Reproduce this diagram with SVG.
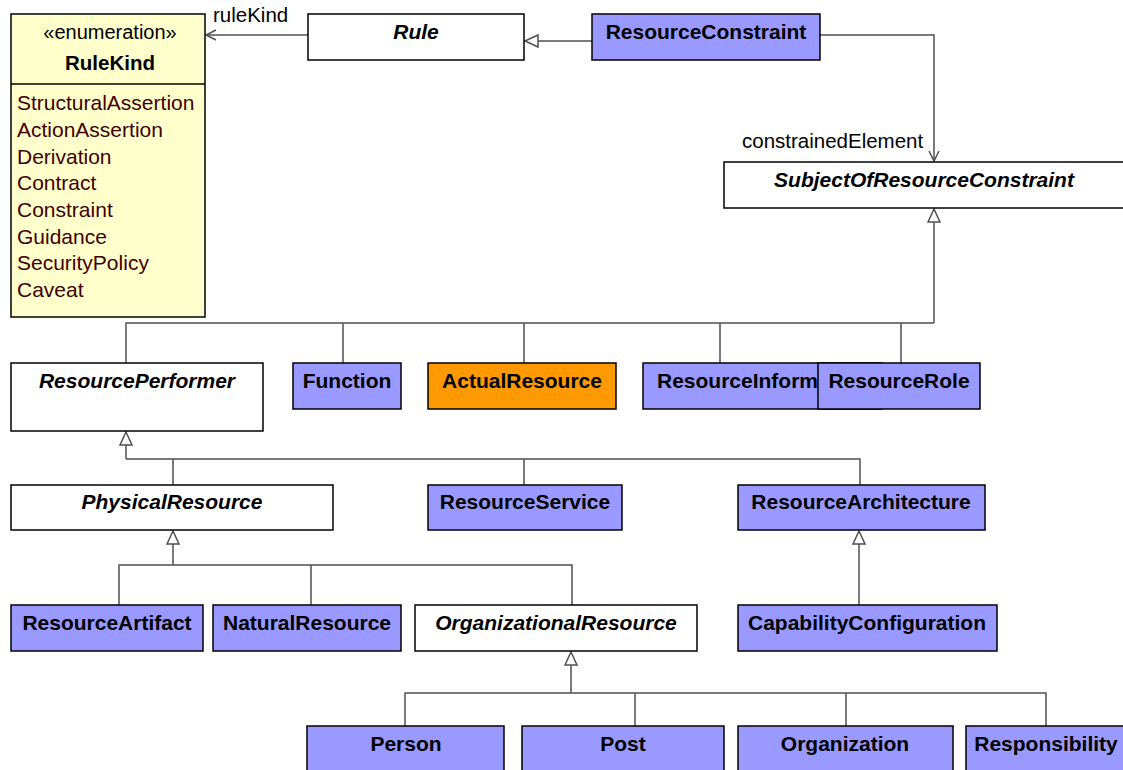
<svg xmlns="http://www.w3.org/2000/svg" width="1123" height="770" viewBox="0 0 1123 770">
<style>
text{font-family:"Liberation Sans",Arial,sans-serif;font-size:21px;fill:#000}
.n{stroke:#000;stroke-width:1.5}
.b{fill:#9999FF}
.w{fill:#FFFFFF}
.o{fill:#FF9900}
.y{fill:#FFFFCC}
.t{font-weight:bold;text-anchor:middle}
.i{font-weight:bold;font-style:italic;text-anchor:middle}
.lit{fill:#3F0000}
.c{fill:none;stroke:#505050;stroke-width:1.5}
</style>
<defs>
<marker id="gen" markerUnits="userSpaceOnUse" markerWidth="16" markerHeight="16" refX="14" refY="7" orient="auto"><path d="M1,1 L14,7 L1,13 Z" fill="#fff" stroke="#505050" stroke-width="1.5"/></marker>
<marker id="open" markerUnits="userSpaceOnUse" markerWidth="14" markerHeight="14" refX="11" refY="6" orient="auto"><path d="M1,1 L11,6 L1,11" fill="none" stroke="#505050" stroke-width="1.5"/></marker>
</defs>
<rect width="1123" height="770" fill="#fff"/>
<g id="connectors">
<path class="c" d="M308,35 H206" marker-end="url(#open)"/>
<text x="213" y="22" style="font-size:20.5px">ruleKind</text>
<path class="c" d="M592,41 H525" marker-end="url(#gen)"/>
<path class="c" d="M820,35 H934 V161" marker-end="url(#open)"/>
<text x="742" y="148" style="font-size:20.5px">constrainedElement</text>
<path class="c" d="M934,323 V209" marker-end="url(#gen)"/>
<path class="c" d="M126,363 V323 H934 M343,363 V323 M524,363 V323 M720,363 V323 M901,363 V323"/>
<path class="c" d="M126,459 V432" marker-end="url(#gen)"/>
<path class="c" d="M126,459 H860 V485 M173,485 V459 M524,485 V459"/>
<path class="c" d="M173,565 V531" marker-end="url(#gen)"/>
<path class="c" d="M119,605 V565 H572 V605 M311,605 V565"/>
<path class="c" d="M859,605 V531" marker-end="url(#gen)"/>
<path class="c" d="M571,693 V652" marker-end="url(#gen)"/>
<path class="c" d="M405,726 V693 H1046 V726 M635,726 V693 M846,726 V693"/>
</g>
<g id="RuleKind">
<rect class="n y" x="11" y="14" width="194" height="303"/>
<line class="n" x1="11" y1="84" x2="205" y2="84"/>
<text x="110" y="39" text-anchor="middle" style="font-size:20px">«enumeration»</text>
<text class="t" x="110" y="70" style="font-size:20.5px">RuleKind</text>
<text class="lit" x="17" y="110">StructuralAssertion</text>
<text class="lit" x="17" y="137">ActionAssertion</text>
<text class="lit" x="17" y="164">Derivation</text>
<text class="lit" x="17" y="190">Contract</text>
<text class="lit" x="17" y="217">Constraint</text>
<text class="lit" x="17" y="244">Guidance</text>
<text class="lit" x="17" y="270">SecurityPolicy</text>
<text class="lit" x="17" y="297">Caveat</text>
</g>
<g id="Rule"><rect class="n w" x="308" y="14" width="216" height="46"/><text class="i" x="416" y="39">Rule</text></g>
<g id="ResourceConstraint"><rect class="n b" x="592" y="14" width="228" height="46"/><text class="t" x="706" y="39">ResourceConstraint</text></g>
<g id="SubjectOfResourceConstraint"><rect class="n w" x="724" y="162" width="402" height="46"/><text class="i" x="924" y="187">SubjectOfResourceConstraint</text></g>
<g id="ResourcePerformer"><rect class="n w" x="11" y="363" width="252" height="68"/><text class="i" x="137" y="388">ResourcePerformer</text></g>
<g id="Function"><rect class="n b" x="293" y="363" width="108" height="46"/><text class="t" x="347" y="388">Function</text></g>
<g id="ActualResource"><rect class="n o" x="428" y="363" width="188" height="46"/><text class="t" x="522" y="388">ActualResource</text></g>
<g id="ResourceInformation"><rect class="n b" x="643" y="363" width="239" height="46"/><text x="657" y="388" font-weight="bold">ResourceInform</text></g>
<g id="ResourceRole"><rect class="n b" x="818" y="363" width="162" height="46"/><text class="t" x="899" y="388">ResourceRole</text></g>
<g id="PhysicalResource"><rect class="n w" x="11" y="485" width="322" height="45"/><text class="i" x="172" y="509">PhysicalResource</text></g>
<g id="ResourceService"><rect class="n b" x="428" y="485" width="194" height="45"/><text class="t" x="525" y="509">ResourceService</text></g>
<g id="ResourceArchitecture"><rect class="n b" x="738" y="485" width="247" height="45"/><text class="t" x="861" y="509">ResourceArchitecture</text></g>
<g id="ResourceArtifact"><rect class="n b" x="11" y="605" width="192" height="46"/><text class="t" x="107" y="630">ResourceArtifact</text></g>
<g id="NaturalResource"><rect class="n b" x="213" y="605" width="188" height="46"/><text class="t" x="307" y="630">NaturalResource</text></g>
<g id="OrganizationalResource"><rect class="n w" x="415" y="605" width="282" height="46"/><text class="i" x="556" y="630">OrganizationalResource</text></g>
<g id="CapabilityConfiguration"><rect class="n b" x="738" y="605" width="259" height="46"/><text class="t" x="867" y="630">CapabilityConfiguration</text></g>
<g id="Person"><rect class="n b" x="307" y="726" width="197" height="50"/><text class="t" x="406" y="751">Person</text></g>
<g id="Post"><rect class="n b" x="522" y="726" width="202" height="50"/><text class="t" x="623" y="751">Post</text></g>
<g id="Organization"><rect class="n b" x="738" y="726" width="215" height="50"/><text class="t" x="845" y="751">Organization</text></g>
<g id="Responsibility"><rect class="n b" x="966" y="726" width="162" height="50"/><text class="t" x="1046" y="751">Responsibility</text></g>
</svg>
